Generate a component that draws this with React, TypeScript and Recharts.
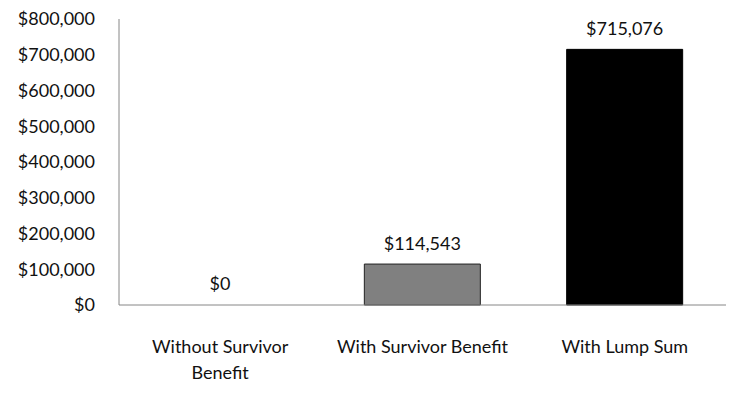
import { Bar, BarChart, Cell, LabelList, XAxis, YAxis } from "recharts";

const categories = ["Without Survivor\nBenefit", "With Survivor Benefit", "With Lump Sum"];
const values = [0, 114543, 715076];
const barColors = ["none", "#808080", "#000000"];
const yTicks = [0, 100000, 200000, 300000, 400000, 500000, 600000, 700000, 800000];

const FONT = "Lato, 'Open Sans', sans-serif";
const FONT_SIZE = 18;
const INK = "#111";
const AXIS = "#868686";

const data = categories.map((name, i) => ({ name, value: values[i] }));

const money = (v: number) => "$" + v.toLocaleString("en-US");

function CategoryTick(props: any) {
  const { x, y, payload } = props;
  const lines = String(payload.value).split("\n");
  return (
    <g>
      {lines.map((line: string, i: number) => (
        <text
          key={i}
          x={x}
          y={y + 33 + i * 26}
          textAnchor="middle"
          dominantBaseline="central"
          fontFamily={FONT}
          fontSize={FONT_SIZE}
          fill={INK}
        >
          {line}
        </text>
      ))}
    </g>
  );
}

function ValueLabel(props: any) {
  const { x, y, width, height, value } = props;
  // zero bar gets 1px from minPointSize; anchor label on the bar's base
  const top = Math.min(y, y + height);
  return (
    <text
      x={x + width / 2}
      y={top - 21}
      textAnchor="middle"
      dominantBaseline="central"
      fontFamily={FONT}
      fontSize={FONT_SIZE}
      fill={INK}
    >
      {money(value)}
    </text>
  );
}

export default function App() {
  return (
    <div style={{ position: "absolute", left: 0, top: 0, width: 744, height: 394, background: "#fff" }}>
      <BarChart
        width={744}
        height={394}
        data={data}
        margin={{ top: 19, right: 18, bottom: 29, left: 0 }}
        barSize={116}
      >
        <XAxis
          dataKey="name"
          axisLine={{ stroke: AXIS }}
          tickLine={false}
          tick={<CategoryTick />}
          height={60}
          interval={0}
        />
        <YAxis
          domain={[0, 800000]}
          ticks={yTicks}
          width={119}
          axisLine={{ stroke: AXIS }}
          tickLine={false}
          tickMargin={18}
          tickFormatter={money}
          tick={{ fill: INK, fontSize: FONT_SIZE, fontFamily: FONT }}
          interval={0}
        />
        <Bar dataKey="value" isAnimationActive={false} minPointSize={1}>
          {data.map((d, i) => (
            <Cell
              key={i}
              fill={barColors[i]}
              stroke={i === 0 ? "none" : i === 1 ? "#222" : barColors[i]}
              strokeWidth={1}
            />
          ))}
          <LabelList dataKey="value" content={<ValueLabel />} />
        </Bar>
      </BarChart>
    </div>
  );
}
